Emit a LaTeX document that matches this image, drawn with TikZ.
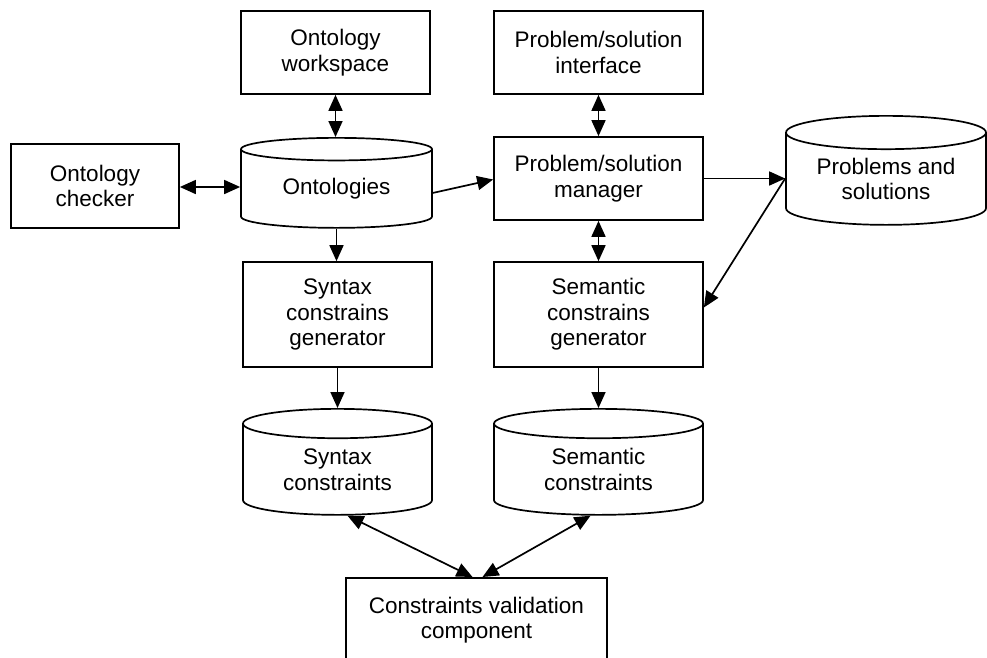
\documentclass[tikz,border=0pt]{standalone}
\usepackage{fontspec}
\setmainfont{Liberation Sans}
\usetikzlibrary{arrows.meta,shapes.geometric}

\begin{document}
\begin{tikzpicture}[x=1pt, y=-1pt, line width=1.7pt,
  font=\fontsize{22.5}{25.5}\selectfont,
  block/.style={draw, rectangle, align=center, inner sep=0pt},
  store/.style={draw, cylinder, shape border rotate=90, aspect=#1,
    align=center, inner sep=0pt, anchor=north},
  store/.default=0.21,
  link/.style={-{Triangle[length=16pt,width=14pt]}},
  dlink/.style={{Triangle[length=16pt,width=14pt]}-{Triangle[length=16pt,width=14pt]}}]

\useasboundingbox (0,0) rectangle (987,657);

% Top row
\node[block, minimum width=189, minimum height=83] (ws) at (335.5,52.5) {Ontology\\workspace};
\node[block, minimum width=209, minimum height=83] (psi) at (598.5,52.5) {Problem/solution\\interface};

% Middle row
\node[block, minimum width=168, minimum height=84] (chk) at (95,186) {Ontology\\checker};
\node[store, minimum width=191, minimum height=90] (onto) at (336.5,137) {Ontologies};
\node[block, minimum width=209, minimum height=83] (mgr) at (598.5,178.5) {Problem/solution\\manager};
\node[store=0.24, minimum width=200, minimum height=109] (prob) at (886,115) {Problems and\\solutions};

% Generators
\node[block, minimum width=189, minimum height=105] (syng) at (337.5,314.5) {Syntax\\constrains\\generator};
\node[block, minimum width=209, minimum height=105] (semg) at (598.5,314.5) {Semantic\\constrains\\generator};

% Constraint stores
\node[store=0.27, minimum width=189, minimum height=106] (sync) at (337.5,408) {Syntax\\constraints};
\node[store=0.27, minimum width=209, minimum height=106] (semc) at (598.5,408) {Semantic\\constraints};

% Validation
\node[block, anchor=north, minimum width=261, inner ysep=19pt, text depth=23pt] (val) at (476.5,577) {Constraints validation\\component};

% Connectors
\coordinate (pin) at (mgr.east -| prob.west);
\draw[dlink] (ws.south) -- (ws.south |- onto.north);
\draw[dlink] (psi.south) -- (mgr.north);
\draw[dlink] ([yshift=-1pt]chk.east) -- ([yshift=-1pt]chk.east -| onto.west);
\draw[link] ([yshift=-4pt]onto.east) -- ([yshift=-1pt]mgr.west);
\draw[link] (mgr.east) -- (pin);
\draw[link] (onto.south) -- (onto.south |- syng.north);
\draw[dlink] (mgr.south) -- (semg.north);
\draw[link] (pin) -- ([yshift=7pt]semg.east);
\draw[link] (syng.south) -- (sync.north);
\draw[link] (semg.south) -- (semc.north);
\draw[dlink] ([xshift=10pt]sync.south) -- ([xshift=-4pt]val.north);
\draw[dlink] ([xshift=-8pt]semc.south) -- ([xshift=6pt]val.north);

\end{tikzpicture}
\end{document}
